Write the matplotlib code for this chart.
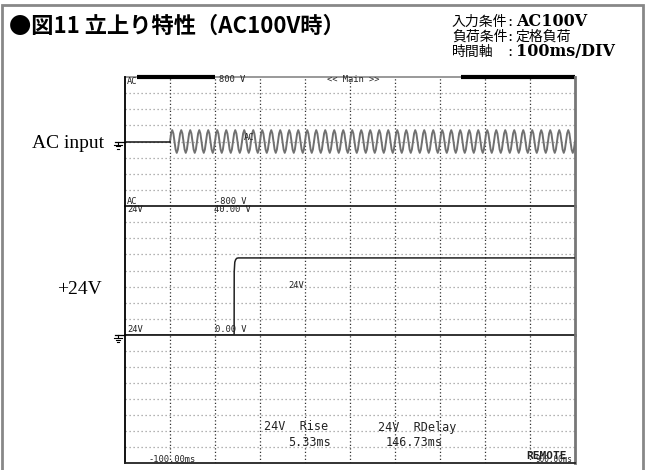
import numpy as np
import matplotlib.pyplot as plt
from matplotlib.lines import Line2D
from matplotlib.patches import Rectangle

# --- values ---
t_div = [0, 100, 200, 300, 400, 500, 600, 700, 800]   # ms, vertical grid
t_range = (-100, 900)                                  # ms, 100 ms/DIV

# AC input: flat before switch-on, then 50 Hz mains (one period sampled, repeated)
ac_pre_t = [-100, 0]
ac_pre_v = [0, 0]
ac_cycle = [0, 100, 141, 100, 0, -100, -141, -100]    # V over one 20 ms period
ac_period_ms = 20
ac_cycles = 45
ac_range = (-800, 800)

# +24V output
v24_t = [-100, 142.5, 142.7, 144.0, 146.0, 148.5, 152.0, 900]
v24_v = [0, 0, 19.6, 22.6, 23.4, 23.8, 23.9, 23.9]
v24_range = (0, 40)

W, H = 646, 470
fig = plt.figure(figsize=(W / 100, H / 100), dpi=100)


def fx(x):
    return x / W


def fy(y):
    return 1 - y / H


# panels (pixel rows on the scope screen)
left, right = 125, 575
panels = [(77, 206, ac_range), (206, 335, v24_range), (335, 463, (0, 8))]
axes = []
for top, bot, (lo, hi) in panels:
    ax = fig.add_axes([fx(left), fy(bot), (right - left) / W, (bot - top) / H])
    ax.set_xlim(*t_range)
    ax.set_ylim(lo, hi)
    ax.axis('off')
    for k in range(1, 8):
        ax.axhline(lo + k * (hi - lo) / 8, color='#9a9a9a', ls=(0, (1, 2.2)), lw=0.9)
    for t in t_div:
        ax.axvline(t, color='#333333', ls=(0, (1, 1.8)), lw=0.9)
    axes.append(ax)

ax_ac, ax_24, ax_empty = axes

# AC trace
t_ac = ac_pre_t[1] + np.arange(ac_cycles * len(ac_cycle) + 1) * ac_period_ms / len(ac_cycle)
v_ac = np.append(np.tile(ac_cycle, ac_cycles), ac_cycle[0])
ax_ac.plot(t_ac, v_ac, color='#707070', lw=1.4, clip_on=False, zorder=3)
ax_ac.plot(ac_pre_t, ac_pre_v, color='#111111', lw=1.1, zorder=4)

# 24V trace
ax_24.plot(v24_t, v24_v, color='#222222', lw=1.1, zorder=3)

# frame of the scope screen
ax_ac.plot([0, 1], [1, 1], transform=ax_ac.transAxes, color='#888888', lw=1.2, clip_on=False)
ax_ac.hlines(ac_range[1], -73, 100, color='black', lw=3, clip_on=False)
ax_ac.hlines(ac_range[1], 647, 900, color='black', lw=3, clip_on=False)
for ax in axes:
    ax.plot([0, 0], [0, 1], transform=ax.transAxes, color='black', lw=1.3, clip_on=False)
    ax.plot([1, 1], [0, 1], transform=ax.transAxes, color='#777777', lw=2, clip_on=False)
    ax.plot([0, 1], [0, 0], transform=ax.transAxes, color='#222222', lw=1.3, clip_on=False)


# ground markers
def ground(x, y):
    fig.add_artist(Line2D([fx(x), fx(left)], [fy(y), fy(y)], color='black', lw=0.9))
    fig.add_artist(Line2D([fx(x + 3), fx(x + 3)], [fy(y), fy(y + 3)], color='black', lw=0.8))
    for i, hw in enumerate([4, 2.5, 1]):
        fig.add_artist(Line2D([fx(x + 3 - hw), fx(x + 3 + hw)],
                              [fy(y + 3 + 2 * i), fy(y + 3 + 2 * i)], color='black', lw=0.8))


ground(115, 141.5)
ground(115, 335)


def st(x, y, s, size=6.3, **kw):
    fig.text(fx(x), fy(y), s, family='DejaVu Sans Mono', fontsize=size,
             va='center', ha='left', color='#222222', **kw)


st(127, 81, 'AC')
st(219, 80, '800 V')
st(327, 80, '<< Main >>')
st(244, 138, 'AC')
st(127, 201, 'AC')
st(215, 201, '-800 V')
st(127, 210, '24V')
st(214, 210, '40.00 V')
st(288, 285, '24V')
st(127, 330, '24V')
st(215, 330, '0.00 V')
st(148, 459, '-100.00ms')
st(264, 427, '24V  Rise', size=8.5)
st(288, 442, '5.33ms', size=8.5)
st(378, 427, '24V  RDelay', size=8.5)
st(386, 442, '146.73ms', size=8.5)
st(535, 460, '900.00ms', size=5.5)
st(526, 456, 'REMOTE', size=8, weight='bold')

# labels left of the screen
fig.text(fx(104), fy(143), 'AC input', family='Liberation Serif', fontsize=14,
         ha='right', va='center')
fig.text(fx(102), fy(290), '+24V', family='Liberation Serif', fontsize=14,
         ha='right', va='center')

# header
fig.text(fx(9), fy(26), '●図11 立上り特性（AC100V時）', family=['Noto Sans CJK JP'],
         fontsize=16, weight='bold', ha='left', va='center')

cond_labels = ['入力条件', '負荷条件', '時間軸']
cond_values = ['AC100V', '定格負荷', '100ms/DIV']
for i, (lab, val) in enumerate(zip(cond_labels, cond_values)):
    y = 22 + 15 * i
    fig.text(fx(452), fy(y), lab, family='Noto Sans CJK JP', fontsize=10,
             ha='left', va='center')
    fig.text(fx(510), fy(y), ':', family='DejaVu Serif', fontsize=11,
             ha='center', va='center')
    if val.isascii():
        fig.text(fx(516), fy(y), val, family='DejaVu Serif', fontsize=11.5,
                 weight='bold', ha='left', va='center')
    else:
        fig.text(fx(516), fy(y), val, family='Noto Sans CJK JP', fontsize=10,
                 ha='left', va='center')

# outer frame
fig.add_artist(Rectangle((fx(2), fy(480)), fx(641), (480 - 5) / H, fill=False,
                         edgecolor='#888888', lw=2, transform=fig.transFigure))

fig.savefig('out.png', dpi=100)
